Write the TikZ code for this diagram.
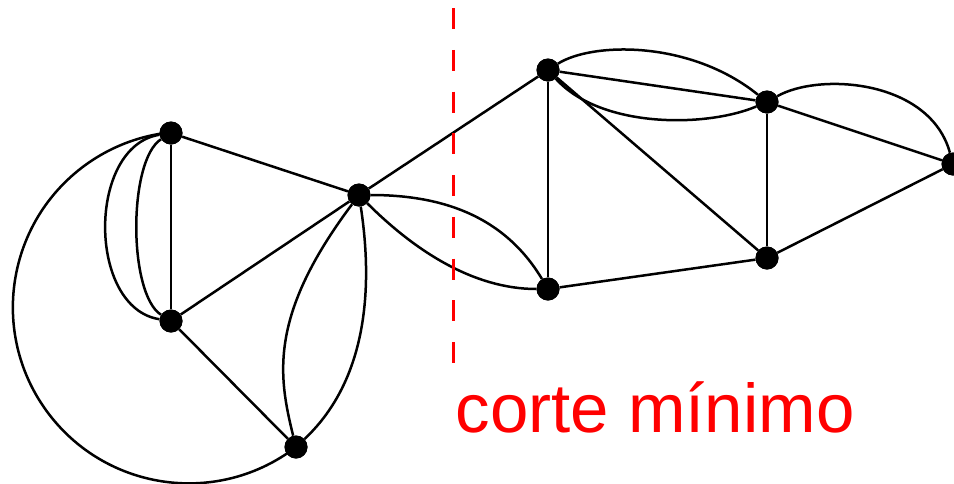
\documentclass[tikz,border=0pt]{standalone}
\usepackage{fontspec}
\setsansfont{Liberation Sans}
\begin{document}
\begin{tikzpicture}[x=1pt,y=1pt,
  vtx/.style={circle,fill=black,inner sep=0pt,minimum size=23pt},
  edge/.style={line width=2.5pt,black},
  cutline/.style={red,line width=2.3pt,dash pattern=on 21pt off 20.75pt},
  cutlabel/.style={text=red,inner sep=0pt,anchor=base west,font=\sffamily\fontsize{69}{80}\selectfont}]
\useasboundingbox (0,0) rectangle (954,-483);
% vertices
\node[vtx] (A) at (171,-133) {};
\node[vtx] (B) at (171,-321) {};
\node[vtx] (C) at (296,-447) {};
\node[vtx] (D) at (359,-195) {};
\node[vtx] (E) at (548,-70) {};
\node[vtx] (F) at (548,-289) {};
\node[vtx] (G) at (767,-102) {};
\node[vtx] (H) at (767,-258) {};
\node[vtx] (I) at (953,-164) {};
\coordinate (cut1) at (453.5,-8);
\coordinate (cut2) at (453.5,-363);
% edges
\draw[edge] (A) -- (B);
\draw[edge] (A) .. controls (87,-146) and (87,-308) .. (B);
\draw[edge] (A) .. controls (128,-160) and (128,-294) .. (B);
\draw[edge] (C.center) arc[start angle=-52.5, end angle=-264.2, radius=176];
\draw[edge] (A) -- (D);
\draw[edge] (B) -- (D);
\draw[edge] (B) -- (C);
\draw[edge] (D) .. controls (269,-315) and (278,-375) .. (C);
\draw[edge] (D) .. controls (375,-300) and (362,-385) .. (C);
\draw[edge] (D) -- (E);
\draw[edge] (D) .. controls (439,-195) and (503,-214) .. (F);
\draw[edge] (D) .. controls (414,-250) and (473,-289) .. (F);
\draw[edge] (E) -- (F);
\draw[edge] (E) -- (G);
\draw[edge] (E) .. controls (592,-42) and (690,-40) .. (G);
\draw[edge] (E) .. controls (600,-128) and (705,-128) .. (G);
\draw[edge] (E) -- (H);
\draw[edge] (F) -- (H);
\draw[edge] (G) -- (H);
\draw[edge] (G) -- (I);
\draw[edge] (G) .. controls (820,-72) and (930,-80) .. (I);
\draw[edge] (H) -- (I);
% vertices on top
\foreach \n in {A,B,C,D,E,F,G,H,I}{\fill (\n) circle (11.5pt);}
% cut
\draw[cutline] (cut1) -- (cut2);
\node[cutlabel] (lbl) at (455.5,-432) {corte mínimo};
\end{tikzpicture}
\end{document}
